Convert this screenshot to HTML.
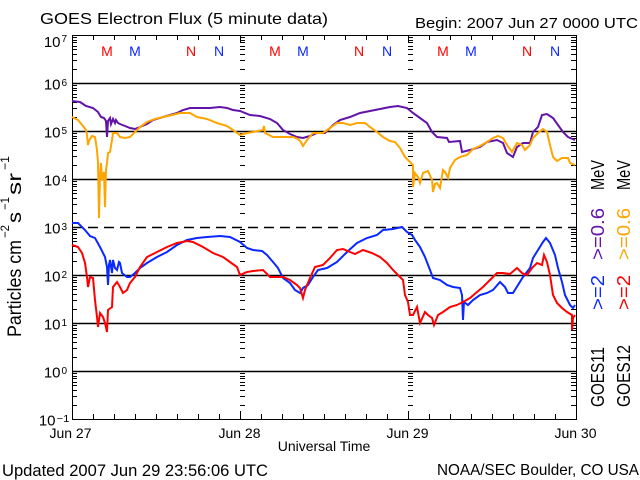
<!DOCTYPE html>
<html><head><meta charset="utf-8"><style>
html,body{margin:0;padding:0;background:#fff;}
svg{display:block;}
text{font-family:"Liberation Sans",sans-serif;}
</style></head><body>
<svg width="640" height="480" viewBox="0 0 640 480" xmlns="http://www.w3.org/2000/svg">
<rect width="640" height="480" fill="#fff"/>
<defs>
<path id="dec" d="M0,-13.5h5M0,-22.5h5M0,-28.5h5M0,-33.5h5M0,-36.5h5M0,-40.5h5M0,-42.5h5M0,-45.5h5" stroke="#000" stroke-width="1" fill="none"/>
<g id="col">
<use href="#dec" y="419"/><use href="#dec" y="371"/><use href="#dec" y="323"/><use href="#dec" y="275"/>
<use href="#dec" y="227"/><use href="#dec" y="179"/><use href="#dec" y="131"/><use href="#dec" y="83"/>
</g>
</defs>

<!-- titles -->
<text x="40" y="24" font-size="16" textLength="288" lengthAdjust="spacingAndGlyphs">GOES Electron Flux (5 minute data)</text>
<text x="415" y="28" font-size="15" textLength="223" lengthAdjust="spacingAndGlyphs">Begin: 2007 Jun 27 0000 UTC</text>

<!-- grid lines -->
<g stroke="#000" stroke-width="1.5" fill="none">
<path d="M72,83.5H576M72,131.5H576M72,179.5H576M72,275.5H576M72,323.5H576M72,371.5H576"/>
<path d="M72,227.5H576" stroke-dasharray="10,6"/>
</g>

<!-- frame -->
<rect x="72.5" y="35.5" width="504" height="384" fill="none" stroke="#000" stroke-width="1"/>

<!-- minor ticks -->
<use href="#col" x="72"/>
<use href="#col" x="571"/>
<use href="#col" x="240"/>
<use href="#col" x="408"/>

<!-- 3-hour ticks -->
<g stroke="#000" stroke-width="1" fill="none">
<path d="M93.5,35v5M114.5,35v5M135.5,35v5M156.5,35v5M177.5,35v5M198.5,35v5M219.5,35v5M261.5,35v5M282.5,35v5M303.5,35v5M324.5,35v5M345.5,35v5M366.5,35v5M387.5,35v5M429.5,35v5M450.5,35v5M471.5,35v5M492.5,35v5M513.5,35v5M534.5,35v5M555.5,35v5"/>
<path d="M93.5,419v-5M114.5,419v-5M135.5,419v-5M156.5,419v-5M177.5,419v-5M198.5,419v-5M219.5,419v-5M261.5,419v-5M282.5,419v-5M303.5,419v-5M324.5,419v-5M345.5,419v-5M366.5,419v-5M387.5,419v-5M429.5,419v-5M450.5,419v-5M471.5,419v-5M492.5,419v-5M513.5,419v-5M534.5,419v-5M555.5,419v-5"/>
<path d="M240.5,35v8M408.5,35v8M240.5,419v-8M408.5,419v-8"/>
</g>

<!-- M / N markers -->
<g font-size="14" text-anchor="middle">
<text x="107" y="56" fill="#ff0000">M</text>
<text x="135" y="56" fill="#0a28ff">M</text>
<text x="191" y="56" fill="#ff0000">N</text>
<text x="219" y="56" fill="#0a28ff">N</text>
<text x="275" y="56" fill="#ff0000">M</text>
<text x="303" y="56" fill="#0a28ff">M</text>
<text x="359" y="56" fill="#ff0000">N</text>
<text x="387" y="56" fill="#0a28ff">N</text>
<text x="443" y="56" fill="#ff0000">M</text>
<text x="471" y="56" fill="#0a28ff">M</text>
<text x="527" y="56" fill="#ff0000">N</text>
<text x="555" y="56" fill="#0a28ff">N</text>
</g>

<!-- y tick labels -->
<g font-size="15">
<text x="60.5" y="47" text-anchor="end">10</text><text x="61.5" y="42" font-size="10">7</text>
<text x="60.5" y="89.5" text-anchor="end">10</text><text x="61.5" y="86" font-size="10">6</text>
<text x="60.5" y="137.5" text-anchor="end">10</text><text x="61.5" y="134" font-size="10">5</text>
<text x="60.5" y="185.5" text-anchor="end">10</text><text x="61.5" y="182" font-size="10">4</text>
<text x="60.5" y="233.5" text-anchor="end">10</text><text x="61.5" y="230" font-size="10">3</text>
<text x="60.5" y="281.5" text-anchor="end">10</text><text x="61.5" y="278" font-size="10">2</text>
<text x="60.5" y="329.5" text-anchor="end">10</text><text x="61.5" y="326" font-size="10">1</text>
<text x="60.5" y="377.5" text-anchor="end">10</text><text x="61.5" y="374" font-size="10">0</text>
<text x="55.5" y="425.5" text-anchor="end">10</text><text x="56.5" y="422" font-size="10" textLength="13" lengthAdjust="spacingAndGlyphs">−1</text>
</g>

<!-- y axis title -->
<g font-size="19">
<text transform="translate(21,337) rotate(-90)" textLength="97" lengthAdjust="spacingAndGlyphs">Particles cm</text>
<text transform="translate(9,238) rotate(-90)" font-size="12" textLength="13" lengthAdjust="spacingAndGlyphs">−2</text>
<text transform="translate(21,223) rotate(-90)" textLength="11" lengthAdjust="spacingAndGlyphs">s</text>
<text transform="translate(9,210) rotate(-90)" font-size="12" textLength="13" lengthAdjust="spacingAndGlyphs">−1</text>
<text transform="translate(21,195) rotate(-90)" textLength="22" lengthAdjust="spacingAndGlyphs">sr</text>
<text transform="translate(9,170) rotate(-90)" font-size="12" textLength="14" lengthAdjust="spacingAndGlyphs">−1</text>
</g>

<!-- x labels -->
<g font-size="14" text-anchor="middle">
<text x="70.5" y="438">Jun 27</text>
<text x="239.5" y="438">Jun 28</text>
<text x="407.5" y="438">Jun 29</text>
<text x="575.5" y="438">Jun 30</text>
<text x="324" y="451">Universal Time</text>
</g>

<!-- footer -->
<text x="2" y="476" font-size="17" textLength="266" lengthAdjust="spacingAndGlyphs">Updated 2007 Jun 29 23:56:06 UTC</text>
<text x="437" y="475" font-size="16" textLength="202" lengthAdjust="spacingAndGlyphs">NOAA/SEC Boulder, CO USA</text>

<!-- right legend columns -->
<g font-size="18">
<text transform="translate(604,407) rotate(-90)" fill="#000" textLength="60" lengthAdjust="spacingAndGlyphs">GOES11</text>
<text transform="translate(604,310) rotate(-90)" fill="#0a28ff" textLength="35" lengthAdjust="spacingAndGlyphs">&gt;=2</text>
<text transform="translate(604,260) rotate(-90)" fill="#6313a8" textLength="52" lengthAdjust="spacingAndGlyphs">&gt;=0.6</text>
<text transform="translate(604,190) rotate(-90)" fill="#000" textLength="30" lengthAdjust="spacingAndGlyphs">MeV</text>
<text transform="translate(630,407) rotate(-90)" fill="#000" textLength="62" lengthAdjust="spacingAndGlyphs">GOES12</text>
<text transform="translate(630,310) rotate(-90)" fill="#ff0000" textLength="35" lengthAdjust="spacingAndGlyphs">&gt;=2</text>
<text transform="translate(630,260) rotate(-90)" fill="#ffa500" textLength="52" lengthAdjust="spacingAndGlyphs">&gt;=0.6</text>
<text transform="translate(630,190) rotate(-90)" fill="#000" textLength="30" lengthAdjust="spacingAndGlyphs">MeV</text>
</g>

<!-- data series -->
<g fill="none" stroke-width="2" stroke-linejoin="miter">
<polyline stroke="#6313a8" points="72,101 80,102 86,106 93,108 98,112 101,117 104,118 106,121 107,137 108,121 110,118 111,124 113,119 115,123 116,120 118,123 120,124 125,126 130,128 135,129 140,127 147,124 153,120 163,117 170,115 177,113 183,110 190,108 200,108 210,108 220,107 227,108 233,110 240,111 250,115 260,116 270,119 277,123 283,130 290,134 297,137 303,138 310,136 317,133 325,133 333,125 340,120 350,117 360,113 370,111 380,109 390,107 398,106 407,108 413,113 420,118 427,123 432,132 437,137 447,138 449,142 460,141 462,152 470,150 480,147 487,142 497,140 503,143 507,153 513,157 517,147 523,143 530,143 533,132 538,127 542,115 547,114 553,118 558,125 563,132 568,137 575,140"/>
<polyline stroke="#ffa500" points="72,117 78,120 83,126 86,130 87,135 88,145 89,141 92,136 95,137 97,150 98,163 99,218 100,175 101,163 102,180 104,172 105,207 106,170 107,163 108,153 110,152 112,140 113,133 117,133 120,137 125,138 130,137 135,132 140,127 147,122 155,119 163,117 172,115 180,113 190,113 197,117 207,119 217,123 227,126 233,130 240,135 247,133 253,132 263,130 264,126 265,133 273,137 283,137 293,137 298,139 301,142 303,146 305,143 307,140 313,133 323,133 330,128 337,123 343,123 350,125 357,123 365,123 370,127 377,132 383,137 390,141 395,142 400,148 405,157 410,162 413,165 413,187 415,173 418,177 420,183 423,173 428,171 432,180 433,192 435,184 437,183 440,188 443,170 445,172 448,178 450,168 455,160 460,157 467,155 473,149 480,146 487,142 493,138 498,136 503,138 507,145 512,152 517,143 522,145 525,150 530,145 533,138 538,133 543,129 547,132 550,145 553,157 557,161 562,158 568,158 570,163 575,165"/>
<polyline stroke="#0a28ff" points="72,223 78,223 85,230 90,236 95,238 100,247 105,257 107,267 108,285 109,265 110,260 112,273 113,260 115,268 117,270 119,262 120,263 122,273 127,277 130,277 135,273 140,268 147,263 157,257 167,252 177,245 187,240 197,238 207,237 220,236 230,237 240,242 247,248 253,250 262,251 267,255 273,262 278,268 283,278 290,283 295,290 300,293 303,288 308,285 313,277 318,270 327,268 337,262 347,252 357,243 367,238 377,235 383,230 393,229 402,227 407,232 412,235 415,240 420,247 425,257 430,270 433,278 440,280 447,285 453,287 460,288 462,295 463,320 464,302 468,305 473,300 480,295 487,293 493,290 500,282 505,287 508,293 513,293 518,285 523,277 530,268 533,258 538,250 543,242 546,238 550,243 555,255 558,268 562,282 565,295 570,305 573,308 575,305"/>
<polyline stroke="#ff0000" points="72,245 78,247 82,253 85,263 87,277 88,287 90,277 93,278 95,300 97,317 98,327 100,313 103,317 105,323 107,332 108,310 112,307 113,287 117,282 120,287 123,293 127,290 130,283 135,277 140,267 147,257 157,252 167,247 177,243 187,241 193,242 203,247 213,253 223,257 230,262 237,267 240,275 247,272 253,271 263,270 270,277 277,277 283,277 290,280 297,285 300,288 303,298 305,290 310,278 315,267 323,265 330,258 337,250 343,249 350,252 355,254 363,250 372,253 380,257 387,263 393,270 398,275 403,280 405,295 408,302 410,315 413,315 417,307 420,323 425,312 428,315 432,318 434,325 438,315 443,312 450,307 457,305 463,302 470,298 477,292 483,287 490,280 497,273 503,273 510,274 517,268 522,273 527,275 532,268 537,263 542,265 544,255 547,262 550,275 553,295 557,303 562,308 567,312 572,315 572,330 573,318 575,315"/>
</g>
</svg>
</body></html>
